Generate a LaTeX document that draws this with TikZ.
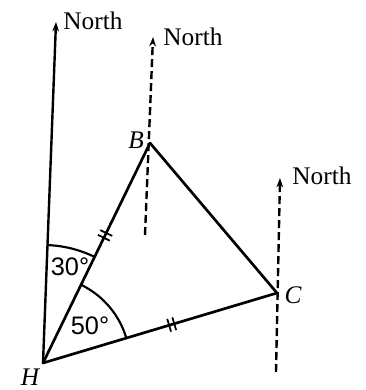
\documentclass[tikz,border=0pt]{standalone}
\usepackage{fontspec}
\setmainfont{Liberation Serif}
\newfontfamily\anglefont{Liberation Sans}
\usetikzlibrary{arrows.meta,calc}
\tikzset{
  main/.style={line width=2pt, line cap=round},
  northline/.style={line width=1.8pt, -{Stealth[length=7pt,width=5pt]}},
  dashline/.style={northline, dash pattern=on 6pt off 3pt},
  angarc/.style={line width=1.6pt},
  tickln/.style={line width=1.3pt},
  lbl/.style={inner sep=0pt, font=\fontsize{19}{19}\selectfont},
  vlbl/.style={inner sep=0pt, font=\fontsize{19}{19}\selectfont\itshape},
  alb/.style={inner sep=0pt, font=\fontsize{19}{19}\selectfont\anglefont}
}
\begin{document}
\begin{tikzpicture}[x=0.75pt,y=0.75pt]
\useasboundingbox (0,0) rectangle (366,390);
% vertices
\coordinate (H) at (43,27);
\coordinate (B) at (150,247);
\coordinate (C) at (277,97);
% north lines
\coordinate (N1) at (56,368);
\coordinate (Bbot) at (145,155);
\coordinate (Btop) at (153,353);
\coordinate (Cbot) at (276,18);
\coordinate (Ctop) at (280,212);
\draw[northline] (H) -- (N1);
\draw[dashline] (Bbot) -- (Btop);
\draw[dashline] (Cbot) -- (Ctop);
% triangle
\draw[main] (H) -- (B);
\draw[main] (B) -- (C);
\draw[main] (H) -- (C);
% equal-length ticks
\coordinate (P1) at ($(H)!0.58!(B)$);
\coordinate (P1a) at ($(P1)!2pt!(B)$);
\coordinate (P1b) at ($(P1)!-2pt!(B)$);
\draw[tickln] ($(P1a)!5pt!90:(B)$) -- ($(P1a)!5pt!-90:(B)$);
\draw[tickln] ($(P1b)!5pt!90:(B)$) -- ($(P1b)!5pt!-90:(B)$);
\coordinate (P2) at ($(H)!0.55!(C)$);
\coordinate (P2a) at ($(P2)!2pt!(C)$);
\coordinate (P2b) at ($(P2)!-2pt!(C)$);
\draw[tickln] ($(P2a)!5pt!90:(C)$) -- ($(P2a)!5pt!-90:(C)$);
\draw[tickln] ($(P2b)!5pt!90:(C)$) -- ($(P2b)!5pt!-90:(C)$);
% angle arcs
\draw[angarc] (H) ++(87.8:118) arc[start angle=87.8, end angle=64.06, radius=118];
\draw[angarc] (H) ++(16.65:87) arc[start angle=16.65, end angle=64.06, radius=87];
% labels
\node[lbl] (n1) at (93,369) {North};
\node[lbl] (n2) at (193,353) {North};
\node[lbl] (n3) at (322,214) {North};
\node[vlbl] (lB) at (136,250) {B};
\node[vlbl] (lC) at (293,95) {C};
\node[vlbl] (lH) at (30,13) {H};
\node[alb] (a30) at (70,123) {30°};
\node[alb] (a50) at (90,64) {50°};
\end{tikzpicture}
\end{document}
